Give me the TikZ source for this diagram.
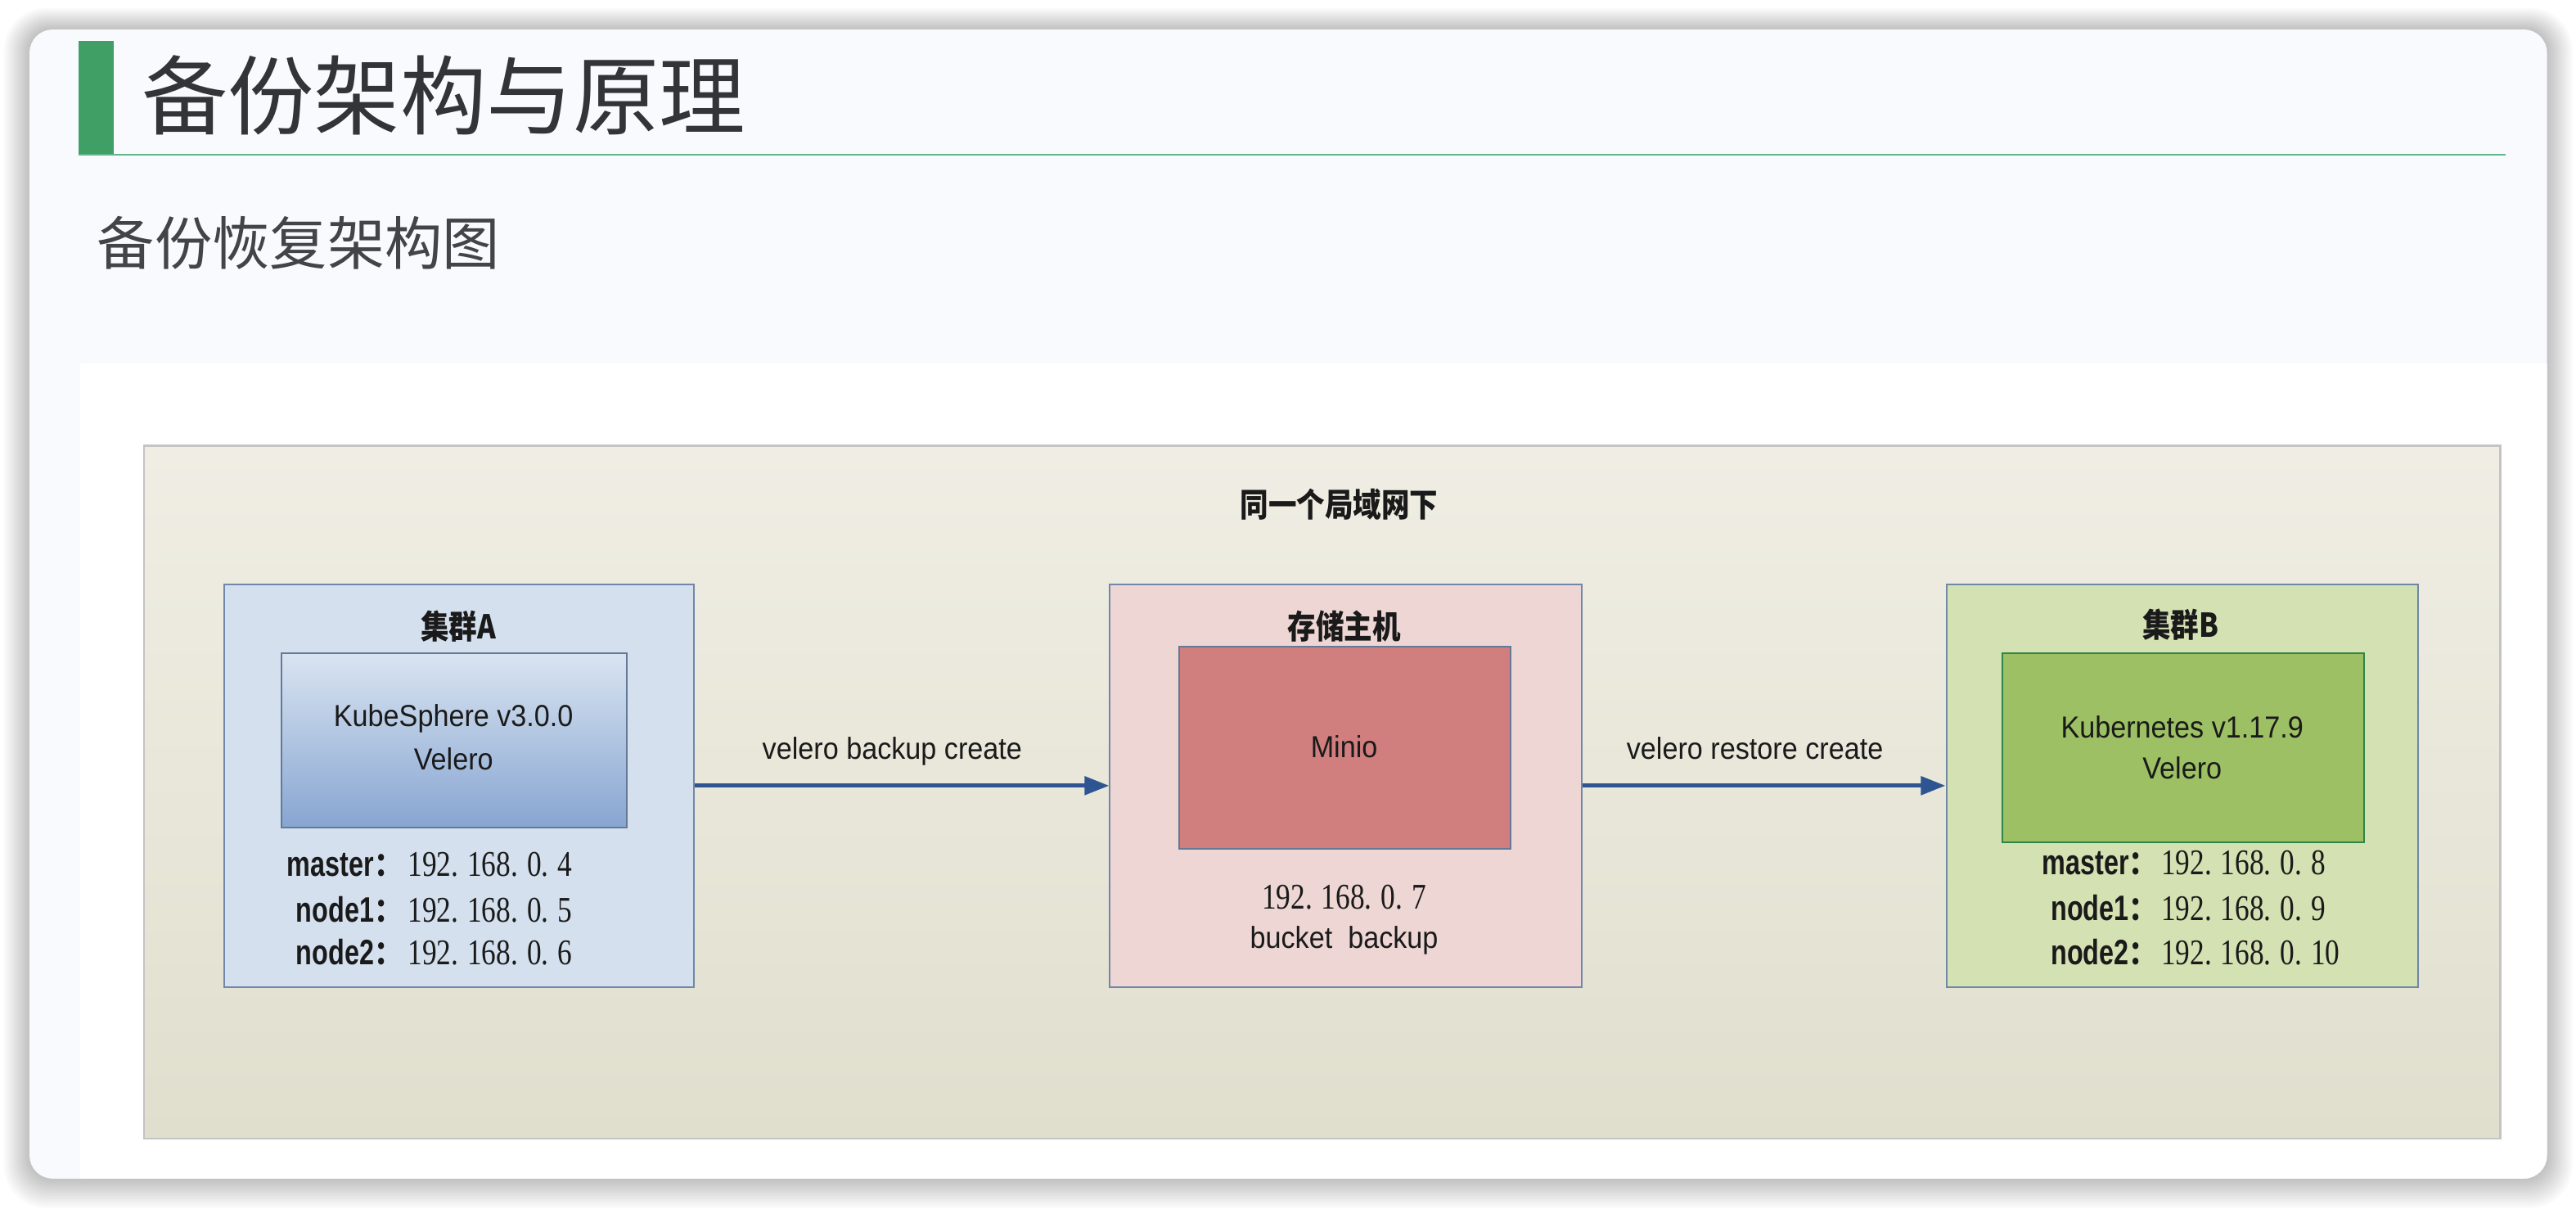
\documentclass[tikz,border=0pt]{standalone}
\usepackage{fontspec}
\setmainfont{Liberation Sans}
\newfontfamily\cjk{Noto Sans CJK SC}
\newfontfamily\cjkn{Noto Sans CJK SC}[FakeStretch=0.86]
\newfontfamily\lat{Liberation Sans}[FakeStretch=0.92]
\newfontfamily\latn{Liberation Sans}[FakeStretch=0.75]
\newfontfamily\ipf{Liberation Serif}[FakeStretch=0.8]
\usetikzlibrary{arrows.meta}
\definecolor{cardfill}{HTML}{F8FAFD}
\definecolor{titlegreen}{HTML}{3F9F65}
\definecolor{linegreen}{HTML}{62B48A}
\definecolor{titletxt}{HTML}{333438}
\definecolor{txt}{HTML}{1A1A1A}
\definecolor{beigetop}{HTML}{F0EEE4}
\definecolor{beigebot}{HTML}{E0DFCE}
\definecolor{beigeedge}{HTML}{C4C4C4}
\definecolor{afill}{HTML}{D4E0EE}
\definecolor{aedge}{HTML}{7087A8}
\definecolor{aintop}{HTML}{D9E4F1}
\definecolor{ainbot}{HTML}{87A5D1}
\definecolor{sfill}{HTML}{EDD6D4}
\definecolor{minio}{HTML}{D07E7E}
\definecolor{bfill}{HTML}{D4E1B2}
\definecolor{bin}{HTML}{9DC064}
\definecolor{arrowblue}{HTML}{2E5592}
\newcommand\ipline[1]{{\ipf\fontsize{22}{24}\selectfont\frenchspacing\spaceskip=5.5pt\xspaceskip=5.5pt #1}}
\newcommand\hostlbl[1]{{\latn\bfseries\fontsize{21.5}{24}\selectfont #1}{\cjkn\bfseries\fontsize{20}{24}\selectfont ：}}
\tikzset{
  lbl/.style={inner sep=0pt, text=txt},
  cjkl/.style={lbl, font=\cjkn\bfseries\fontsize{20}{24}\selectfont},
  latl/.style={lbl, font=\lat\fontsize{18.5}{22}\selectfont},
  outerbox/.style={draw=aedge, line width=1pt, inner sep=0pt, anchor=north west},
  innerbox/.style={draw=aedge!90!black, line width=1pt, inner sep=0pt, anchor=north west},
  conn/.style={draw=arrowblue, line width=2.6pt, -{Triangle[length=15pt,width=11pt]}},
}
\begin{document}
\begin{tikzpicture}[x=1pt,y=-1pt]
\useasboundingbox (0,0) rectangle (1567.7,735.1);
\fill[white] (0,0) rectangle (1567.7,735.1);
% card shadow
\foreach \i [evaluate=\i as \r using 14+\i] in {1,...,12}
  \fill[black, opacity=0.018, rounded corners=\r pt] (18-\i*1.3,18-\i*1.1) rectangle (1550+\i*1.3,717+\i*1.5);
% card
\fill[cardfill, rounded corners=14pt] (18,18) rectangle (1550,717);
\begin{scope}
  \clip[rounded corners=14pt] (18,18) rectangle (1550,717);
  \fill[white] (49,221) rectangle (1552,719);
\end{scope}
% title
\fill[titlegreen] (48,25) rectangle (69,94);
\draw[linegreen, line width=1pt] (48,94) -- (1525,94);
\node[inner sep=0pt, anchor=west, text=titletxt, font=\cjk\fontsize{52.5}{60}\selectfont] (title) at (86,58) {备份架构与原理};
\node[inner sep=0pt, anchor=west, text=titletxt!92!white, font=\cjk\fontsize{35}{40}\selectfont] (subtitle) at (59,148) {备份恢复架构图};
% diagram background
\node[draw=beigeedge, line width=1.2pt, top color=beigetop, bottom color=beigebot, minimum width=1434pt, minimum height=421.5pt, inner sep=0pt, anchor=north west] (lan) at (87,270.5) {};
\node[cjkl] (lanlbl) at (815,307) {同一个局域网下};
% cluster A
\node[outerbox, fill=afill, minimum width=286pt, minimum height=245pt] (A) at (136,355) {};
\node[cjkl] (Alabel) at (279,381) {集群A};
\node[innerbox, top color=aintop, bottom color=ainbot, minimum width=210pt, minimum height=106pt] (Ain) at (171,397) {};
\node[latl, anchor=base] (Ak) at (276,442) {KubeSphere v3.0.0};
\node[latl, anchor=base] (Av) at (276,468.5) {Velero};
\node[lbl, anchor=base east] (Am) at (245,533) {\hostlbl{master}};
\node[lbl, anchor=base west] (Amip) at (248,533) {\ipline{192. 168. 0. 4}};
\node[lbl, anchor=base east] (An1) at (245,561) {\hostlbl{node1}};
\node[lbl, anchor=base west] (An1ip) at (248,561) {\ipline{192. 168. 0. 5}};
\node[lbl, anchor=base east] (An2) at (245,587) {\hostlbl{node2}};
\node[lbl, anchor=base west] (An2ip) at (248,587) {\ipline{192. 168. 0. 6}};
% storage host
\node[outerbox, fill=sfill, minimum width=287pt, minimum height=245pt] (S) at (675,355) {};
\node[cjkl] (Slabel) at (818,381) {存储主机};
\node[innerbox, fill=minio, minimum width=202pt, minimum height=123pt] (Sin) at (717,393) {};
\node[latl, anchor=base] (Sm) at (818,461) {Minio};
\node[lbl, anchor=base] (Sip) at (818,553) {\ipline{192. 168. 0. 7}};
\node[latl, anchor=base] (Sb) at (818,577) {bucket~ backup};
% cluster B
\node[outerbox, fill=bfill, minimum width=287pt, minimum height=245pt] (B) at (1184,355) {};
\node[cjkl] (Blabel) at (1327,380) {集群B};
\node[innerbox, draw=aedge!60!black!70!green, fill=bin, minimum width=220pt, minimum height=115pt] (Bin) at (1218,397) {};
\node[latl, anchor=base] (Bk) at (1328,449) {Kubernetes v1.17.9};
\node[latl, anchor=base] (Bv) at (1328,474) {Velero};
\node[lbl, anchor=base east] (Bm) at (1313,532) {\hostlbl{master}};
\node[lbl, anchor=base west] (Bmip) at (1315,532) {\ipline{192. 168. 0. 8}};
\node[lbl, anchor=base east] (Bn1) at (1313,560) {\hostlbl{node1}};
\node[lbl, anchor=base west] (Bn1ip) at (1315,560) {\ipline{192. 168. 0. 9}};
\node[lbl, anchor=base east] (Bn2) at (1313,587) {\hostlbl{node2}};
\node[lbl, anchor=base west] (Bn2ip) at (1315,587) {\ipline{192. 168. 0. 10}};
% connectors
\draw[conn] (A.east) -- (S.west);
\draw[conn] (S.east) -- (B.west);
\node[latl, anchor=base] (l1) at (543,462) {velero backup create};
\node[latl, anchor=base] (l2) at (1068,462) {velero restore create};
\end{tikzpicture}
\end{document}
